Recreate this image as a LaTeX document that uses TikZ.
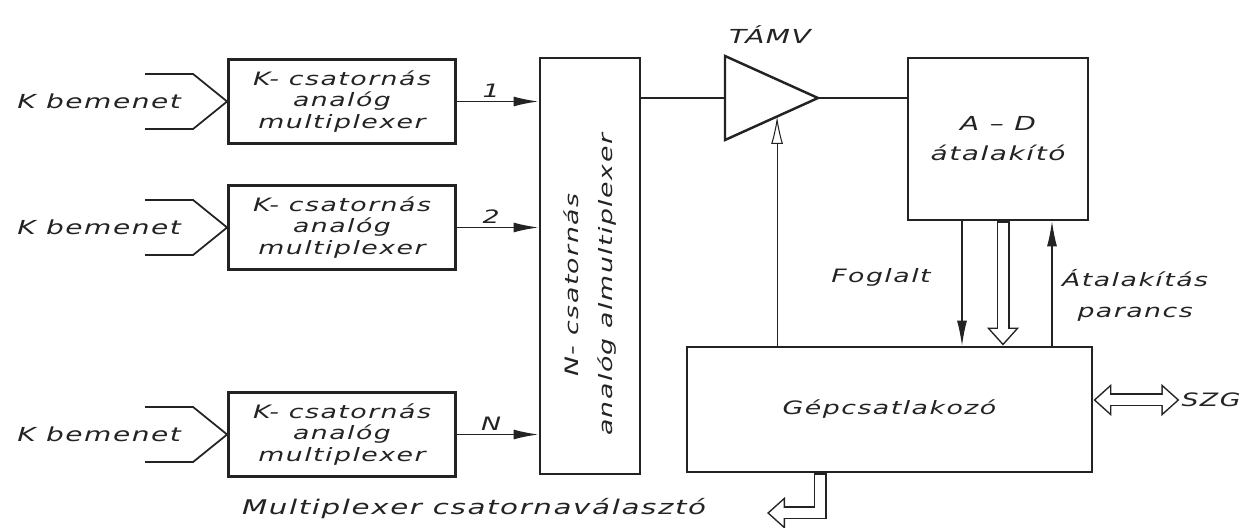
\documentclass[tikz,border=0pt]{standalone}
\usepackage{fontspec}
\setmainfont{DejaVu Sans}[FakeStretch=1.45, LetterSpace=8]
\usepackage{tikz}
\usetikzlibrary{arrows.meta, positioning, calc}
\usepackage{xcolor}
\definecolor{ink}{RGB}{35,35,35}

\tikzset{
  block/.style={draw=ink, line width=1.6pt, align=center},
  lbl/.style={text=ink, font=\itshape\fontsize{10.5}{12.4}\selectfont, inner sep=1pt, align=center},
  wire/.style={draw=ink, line width=1pt},
  thinwire/.style={draw=ink, line width=0.6pt},
  sig/.style={-{Latex[length=0.5cm, width=0.2cm]}},
  osig/.style={-{Latex[open, length=0.55cm, width=0.24cm]}},
  % hollow (double) bus arrows
  bus/.style={draw=ink, line width=0.26cm, line join=miter,
    -{Triangle[length=0.36cm, width=0.62cm]},
    postaction={draw=white, line width=0.2cm, shorten <=0.8pt, shorten >=0.046cm,
      -{Triangle[length=0.284cm, width=0.49cm]}}},
  busboth/.style={draw=ink, line width=0.26cm,
    {Triangle[length=0.36cm, width=0.62cm]}-{Triangle[length=0.36cm, width=0.62cm]},
    postaction={draw=white, line width=0.2cm, shorten <=0.046cm, shorten >=0.046cm,
      {Triangle[length=0.284cm, width=0.49cm]}-{Triangle[length=0.284cm, width=0.49cm]}}},
}

\begin{document}
\begin{tikzpicture}
    \useasboundingbox (0,0) rectangle (24.84,10.56);

    % K-channel multiplexers with their inputs
    \foreach \i/\y in {1/8.53, 2/6.01, 3/1.87} {
        \node[block, lbl, minimum width=4.54cm, minimum height=1.68cm] (kmux\i) at (6.84,\y) {K- csatornás\\analóg\\multiplexer};
        \node[lbl, font=\itshape\fontsize{11}{13}\selectfont, left=0.88cm of kmux\i.west] (kin\i) {K bemenet};
        \coordinate (inT\i) at ($(kmux\i.west)+(-1.64,0.55)$);
        \coordinate (inB\i) at ($(kmux\i.west)+(-1.64,-0.55)$);
        \draw[wire] (inT\i) -- ($(inT\i)+(0.96,0)$) -- (kmux\i.west) -- ($(inB\i)+(0.96,0)$) -- (inB\i);
    }

    % N-channel sub-multiplexer
    \node[block, minimum width=2cm, minimum height=8.32cm] (nbox) at (11.8,5.24) {};
    \node[lbl, rotate=90, font=\itshape\fontsize{10.5}{19}\selectfont] (nboxtxt) at ([yshift=-0.38cm]nbox.center) {N- csatornás\\analóg almultiplexer};

    \foreach \i/\lab in {1/1, 2/2, 3/N} {
        \draw[wire, sig] (kmux\i.east) -- (kmux\i.east -| nbox.west) node[lbl, pos=0.42, above=1pt] {\lab};
    }

    % sample and hold amplifier
    \coordinate (ampTL) at (14.5,9.44);
    \coordinate (ampBL) at (14.5,7.76);
    \coordinate (ampIn) at (14.5,8.6);
    \coordinate (ampOut) at (16.36,8.6);
    \coordinate (ampCtl) at ($(ampBL)!0.56!(ampOut)$);
    \draw[ink, line width=1.4pt, line join=miter] (ampTL) -- (ampOut) -- (ampBL) -- cycle;
    \node[lbl, font=\itshape\fontsize{11}{13}\selectfont] (tamv) at (15.4,9.86) {TÁMV};

    % converter and interface
    \node[block, lbl, font=\itshape\fontsize{11}{17}\selectfont, minimum width=3.6cm, minimum height=3.24cm] (ad) at (19.96,7.78) {A – D\\átalakító};
    \node[block, lbl, minimum width=8.1cm, minimum height=2.5cm] (gep) at (17.79,2.37) {Gépcsatlakozó};

    \draw[wire] (nbox.east |- ampIn) -- (ampIn);
    \draw[thinwire] (ampOut) -- (ad.west |- ampOut);
    \draw[thinwire, osig] (gep.north -| ampCtl) -- (ampCtl);

    % handshake between A-D and interface
    \draw[thinwire, sig] ([xshift=-0.72cm]ad.south) -- ([xshift=-0.72cm]ad.south |- gep.north);
    \draw[bus] ([xshift=0.1cm]ad.south) -- ([xshift=0.1cm]ad.south |- gep.north);
    \draw[thinwire, sig] ([xshift=1.08cm]ad.south |- gep.north) -- ([xshift=1.08cm]ad.south);
    \node[lbl] (foglalt) at (17.62,5.02) {Foglalt};
    \node[lbl, anchor=west, font=\itshape\fontsize{10.5}{17.6}\selectfont] (parancs) at (21.2,4.66) {Átalakítás\\parancs};

    % computer side
    \node[lbl] (szg) at (24.22,2.56) {SZG};
    \draw[busboth] ([yshift=0.19cm]gep.east) -- (szg.west);

    % channel select
    \coordinate (msel) at (15.34,0.3);
    \draw[bus] ([xshift=-1.39cm]gep.south) |- (msel);
    \node[lbl, font=\itshape\fontsize{11.5}{13}\selectfont] (mseltxt) at (9.48,0.38) {Multiplexer csatornaválasztó};
\end{tikzpicture}
\end{document}
